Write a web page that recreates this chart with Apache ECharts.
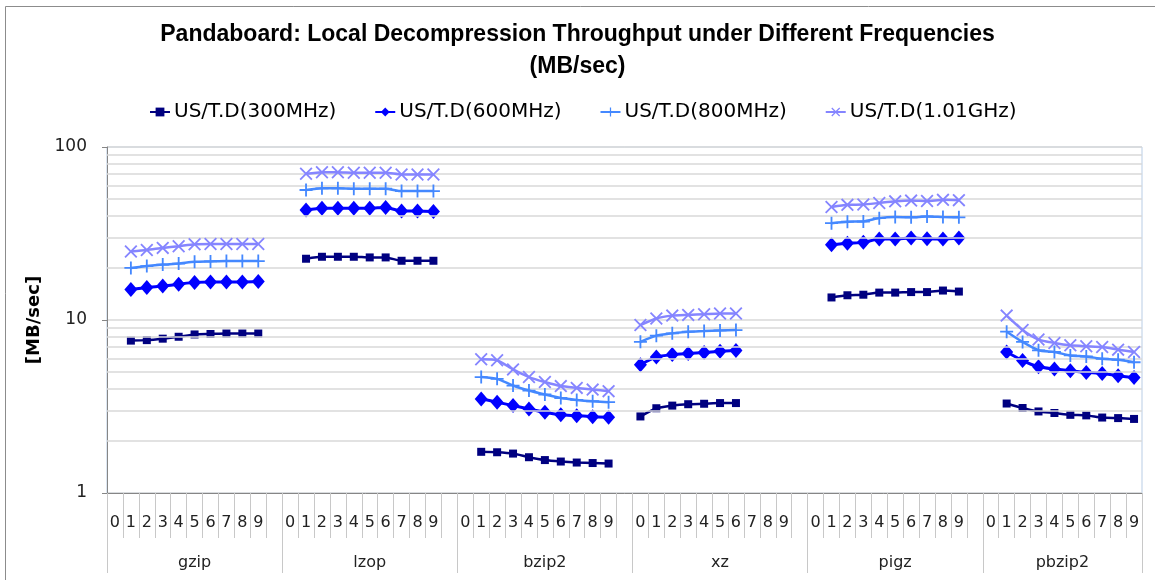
<!DOCTYPE html>
<html>
<head>
<meta charset="utf-8">
<script src="https://cdn.jsdelivr.net/npm/echarts@6/dist/echarts.min.js"></script>
<style>
html,body{margin:0;padding:0;background:#fff;}
#chart{width:1155px;height:580px;}
</style>
</head>
<body>
<div id="chart"></div>
<script>
// ---- data ----
const groups = ['gzip', 'lzop', 'bzip2', 'xz', 'pigz', 'pbzip2'];
const levelLabels = ['0', '1', '2', '3', '4', '5', '6', '7', '8', '9'];
const startLevel = [1, 1, 1, 0, 1, 1];
const seriesNames = ['US/T.D(300MHz)', 'US/T.D(600MHz)', 'US/T.D(800MHz)', 'US/T.D(1.01GHz)'];

const mhz300 = [
  [7.6, 7.65, 7.8, 8.0, 8.25, 8.3, 8.35, 8.35, 8.35],
  [22.6, 23.2, 23.2, 23.2, 23.0, 23.0, 22.0, 22.0, 22.0],
  [1.73, 1.72, 1.69, 1.61, 1.55, 1.52, 1.50, 1.49, 1.48],
  [2.77, 3.09, 3.20, 3.26, 3.28, 3.31, 3.31],
  [13.5, 13.9, 14.0, 14.4, 14.4, 14.5, 14.5, 14.8, 14.6],
  [3.29, 3.10, 2.96, 2.90, 2.83, 2.81, 2.73, 2.71, 2.68]
];
const mhz600 = [
  [15.0, 15.4, 15.7, 16.1, 16.5, 16.6, 16.6, 16.6, 16.7],
  [43.3, 44.3, 44.3, 44.3, 44.3, 44.7, 42.7, 42.7, 42.4],
  [3.50, 3.35, 3.20, 3.06, 2.93, 2.83, 2.80, 2.76, 2.74],
  [5.52, 6.12, 6.31, 6.40, 6.48, 6.60, 6.66],
  [27.2, 27.8, 28.1, 29.4, 29.4, 29.8, 29.5, 29.4, 29.8],
  [6.53, 5.83, 5.37, 5.21, 5.09, 4.98, 4.91, 4.76, 4.65]
];
const mhz800 = [
  [20.0, 20.5, 20.9, 21.2, 21.7, 21.8, 21.9, 21.9, 21.9],
  [56.4, 57.7, 57.7, 57.4, 57.4, 57.4, 55.6, 55.6, 55.6],
  [4.68, 4.57, 4.18, 3.91, 3.71, 3.54, 3.45, 3.39, 3.35],
  [7.48, 8.12, 8.37, 8.56, 8.63, 8.71, 8.74],
  [36.3, 37.0, 37.1, 38.8, 39.4, 39.2, 39.7, 39.4, 39.2],
  [8.56, 7.47, 6.68, 6.53, 6.24, 6.15, 5.97, 5.89, 5.70]
];
const ghz101 = [
  [24.9, 25.4, 26.1, 26.7, 27.4, 27.5, 27.5, 27.5, 27.5],
  [70.0, 71.5, 71.5, 71.0, 71.0, 71.0, 69.4, 69.4, 69.4],
  [5.93, 5.85, 5.18, 4.68, 4.38, 4.15, 4.05, 3.96, 3.88],
  [9.35, 10.2, 10.6, 10.7, 10.8, 10.9, 10.9],
  [45.0, 46.3, 46.5, 47.5, 48.5, 49.0, 48.7, 49.5, 49.3],
  [10.6, 8.76, 7.71, 7.37, 7.14, 7.05, 6.98, 6.74, 6.53]
];
const minorGridValues = [2, 3, 4, 5, 6, 7, 8, 9, 20, 30, 40, 50, 60, 70, 80, 90];

// ---- build categories (each group: levels 0-9, plus a blank slot between groups) ----
const cats = [];
const groupStart = [];
const groupLen = [];
groups.forEach((g, gi) => {
  groupStart.push(cats.length);
  levelLabels.forEach(l => cats.push(l));
  if (gi < groups.length - 1) cats.push('');
  groupLen.push(cats.length - groupStart[gi]);
});

// half-slot axis for the group names and long separators
const halfCount = cats.length * 2 + 1;
const halfData = new Array(halfCount).fill('');
const centerSet = new Set();
const boundarySet = new Set([halfCount - 1]);
groups.forEach((g, gi) => {
  const c = groupStart[gi] * 2 + groupLen[gi];
  halfData[c] = g;
  centerSet.add(c);
  boundarySet.add(groupStart[gi] * 2);
});

function buildSeries(vals) {
  const arr = new Array(cats.length).fill(null);
  vals.forEach((gv, gi) => {
    gv.forEach((v, k) => {
      arr[groupStart[gi] + startLevel[gi] + k] = v;
    });
  });
  return arr;
}

const FONT = 'DejaVu Sans';
const plusPath = 'path://M4.3,0H5.7V4.3H10V5.7H5.7V10H4.3V5.7H0V4.3H4.3Z';
const crossPath = 'path://M0,1L1,0L5,4L9,0L10,1L6,5L10,9L9,10L5,6L1,10L0,9L4,5Z';

const styles = [
  { color: '#000080', symbol: 'rect', size: 8, width: 2.5 },
  { color: '#0000FF', symbol: 'diamond', size: [13, 15], width: 3 },
  { color: '#4488FF', symbol: plusPath, size: 13, width: 2.5 },
  { color: '#8585FF', symbol: crossPath, size: 13, width: 2.5 }
];
const allVals = [mhz300, mhz600, mhz800, ghz101];

const series = allVals.map((vals, i) => {
  const s = {
    name: seriesNames[i],
    type: 'line',
    xAxisIndex: 0,
    data: buildSeries(vals),
    symbol: styles[i].symbol,
    symbolSize: styles[i].size,
    showAllSymbol: true,
    smooth: 0.2,
    connectNulls: false,
    itemStyle: { color: styles[i].color },
    lineStyle: { color: styles[i].color, width: styles[i].width },
    z: 3 + i
  };
  if (i === 0) {
    s.markLine = {
      silent: true,
      symbol: ['none', 'none'],
      label: { show: false },
      animation: false,
      lineStyle: { color: '#d9d9d9', width: 1.5, type: 'solid' },
      data: minorGridValues.map(v => ({ yAxis: v }))
    };
  }
  return s;
});

const chart = echarts.init(document.getElementById('chart'), null, { renderer: 'canvas' });
chart.setOption({
  animation: false,
  backgroundColor: '#fff',
  title: {
    text: 'Pandaboard: Local Decompression Throughput under Different Frequencies\n(MB/sec)',
    left: 'center',
    top: 14,
    textStyle: { fontFamily: 'Liberation Sans', fontWeight: 'bold', fontSize: 23, lineHeight: 32, color: '#000' }
  },
  graphic: [{
    type: 'rect',
    shape: { x: 5.5, y: 6.5, width: 1170, height: 600 },
    style: { fill: 'none', stroke: '#8c8c8c', lineWidth: 1 },
    silent: true
  }],
  legend: {
    top: 97,
    left: 144,
    itemGap: 38,
    itemWidth: 20,
    itemHeight: 11,
    textStyle: { fontFamily: FONT, fontSize: 20, color: '#000', padding: [0, 0, 0, -1] },
    data: seriesNames
  },
  grid: {
    left: 107,
    right: 13,
    top: 147,
    bottom: 87,
    show: true,
    borderColor: '#b9cde5',
    borderWidth: 1,
    containLabel: false
  },
  xAxis: [{
    type: 'category',
    data: cats,
    boundaryGap: true,
    position: 'bottom',
    axisLine: { show: true, lineStyle: { color: '#868686', width: 1 } },
    axisTick: { show: true, interval: 0, length: 45, lineStyle: { color: '#c8c8c8', width: 1 } },
    axisLabel: { interval: 0, margin: 22, fontFamily: FONT, fontSize: 16, color: '#222' },
    splitLine: { show: false }
  }, {
    type: 'category',
    data: halfData,
    boundaryGap: false,
    position: 'bottom',
    axisLine: { show: false },
    axisTick: { show: true, interval: (i) => boundarySet.has(i), length: 80, lineStyle: { color: '#c8c8c8', width: 1 } },
    axisLabel: { interval: (i) => centerSet.has(i), margin: 62, fontFamily: FONT, fontSize: 16, color: '#222' },
    splitLine: { show: false }
  }],
  yAxis: {
    type: 'log',
    logBase: 10,
    min: 1,
    max: 100,
    name: '[MB/sec]',
    nameLocation: 'middle',
    nameRotate: 90,
    nameGap: 60,
    nameTextStyle: { fontFamily: FONT, fontWeight: 'bold', fontSize: 18, color: '#000' },
    axisLine: { show: true, lineStyle: { color: '#868686', width: 1 } },
    axisTick: { show: true, length: 5, inside: false, lineStyle: { color: '#868686' } },
    axisLabel: { margin: 20, fontFamily: FONT, fontSize: 17, color: '#222' },
    splitLine: { show: true, lineStyle: { color: '#d9d9d9', width: 1.5 } },
    minorTick: { show: false },
    minorSplitLine: { show: false }
  },
  series: series
});
</script>
</body>
</html>
